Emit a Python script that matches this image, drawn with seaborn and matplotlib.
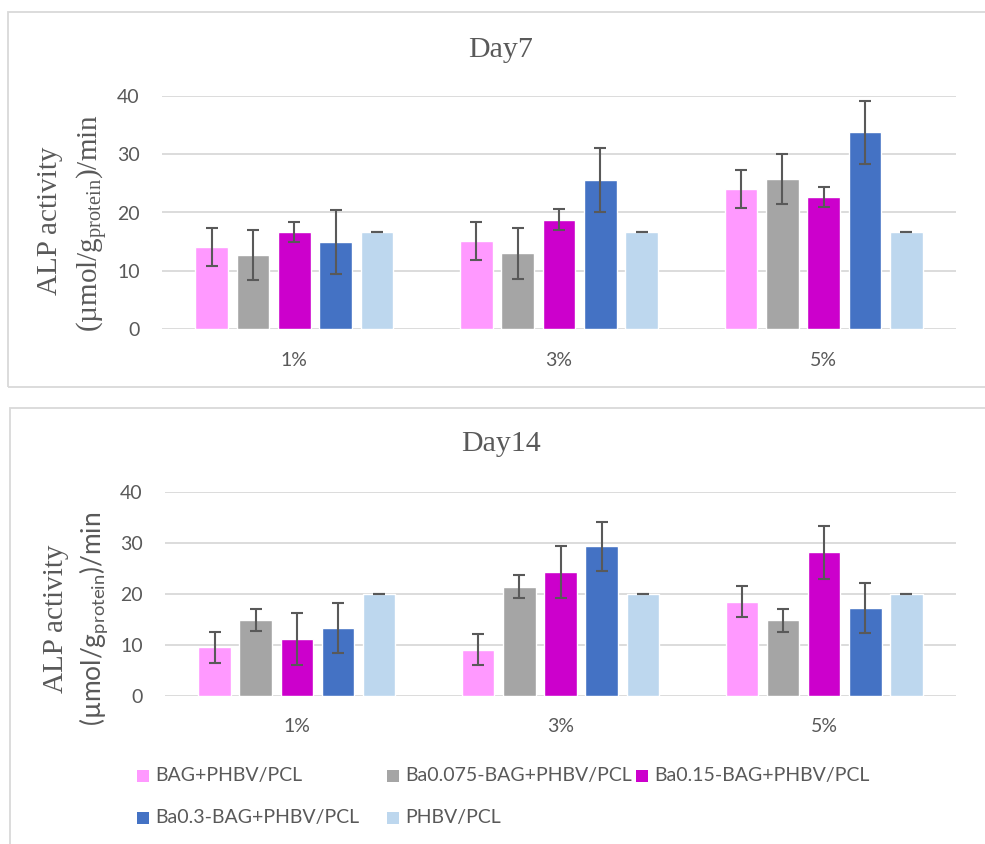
import numpy as np
import pandas as pd
import seaborn as sns
import matplotlib
matplotlib.use("Agg")
import matplotlib.pyplot as plt
from matplotlib.patches import Rectangle

# ---------------- data ----------------
categories = ["1%", "3%", "5%"]
series = ["BAG+PHBV/PCL", "Ba0.075-BAG+PHBV/PCL", "Ba0.15-BAG+PHBV/PCL",
          "Ba0.3-BAG+PHBV/PCL", "PHBV/PCL"]
colors = ["#FF99FF", "#A5A5A5", "#CC00CC", "#4472C4", "#BDD7EE"]

day7_bag = [14.1, 15.1, 24.0]
day7_ba0075 = [12.7, 13.0, 25.7]
day7_ba015 = [16.7, 18.8, 22.7]
day7_ba03 = [14.9, 25.6, 33.7]
day7_phbv = [16.7, 16.7, 16.7]
day7_err_bag = [3.2, 3.2, 3.2]
day7_err_ba0075 = [4.25, 4.35, 4.3]
day7_err_ba015 = [1.75, 1.75, 1.75]
day7_err_ba03 = [5.45, 5.45, 5.45]
day7_err_phbv = [0.0, 0.0, 0.0]

day14_bag = [9.5, 9.1, 18.5]
day14_ba0075 = [14.9, 21.4, 14.8]
day14_ba015 = [11.1, 24.2, 28.1]
day14_ba03 = [13.3, 29.3, 17.2]
day14_phbv = [20.0, 20.0, 20.0]
day14_err_bag = [3.05, 3.05, 3.05]
day14_err_ba0075 = [2.2, 2.2, 2.2]
day14_err_ba015 = [5.1, 5.1, 5.1]
day14_err_ba03 = [4.85, 4.85, 4.85]
day14_err_phbv = [0.0, 0.0, 0.0]

y_ticks = [0, 10, 20, 30, 40]


def make_df(vals, errs):
    rows = []
    for s, v, e in zip(series, vals, errs):
        for c, vv, ee in zip(categories, v, e):
            rows.append({"cat": c, "series": s, "value": vv, "err": ee})
    return pd.DataFrame(rows)


df7 = make_df([day7_bag, day7_ba0075, day7_ba015, day7_ba03, day7_phbv],
              [day7_err_bag, day7_err_ba0075, day7_err_ba015, day7_err_ba03, day7_err_phbv])
df14 = make_df([day14_bag, day14_ba0075, day14_ba015, day14_ba03, day14_phbv],
               [day14_err_bag, day14_err_ba0075, day14_err_ba015, day14_err_ba03, day14_err_phbv])

# ---------------- style ----------------
sns.set_theme(style="white")
plt.rcParams["font.family"] = ["Lato", "DejaVu Sans"]
plt.rcParams["mathtext.fontset"] = "custom"
plt.rcParams["mathtext.rm"] = "Liberation Serif"
plt.rcParams["mathtext.sf"] = "Lato"

TXT = "#595959"
GRID = "#D9D9D9"
W, H = 985, 844

fig = plt.figure(figsize=(W / 100, H / 100), dpi=100)


def fx(x):
    return x / W


def fy(y):
    return 1 - y / H


# panel borders
fig.patches.append(Rectangle((fx(7.5), fy(387)), fx(1000) - fx(7.5), fy(11.5) - fy(387),
                             transform=fig.transFigure, fill=False, ec=GRID, lw=1.3))
fig.patches.append(Rectangle((fx(9.5), fy(860)), fx(1000) - fx(9.5), fy(408) - fy(860),
                             transform=fig.transFigure, fill=False, ec=GRID, lw=1.3))


def draw(df, left, right, top, bottom):
    ax = fig.add_axes([fx(left), fy(bottom), fx(right) - fx(left), fy(top) - fy(bottom)])
    sns.barplot(data=df, x="cat", y="value", hue="series", order=categories,
                hue_order=series, palette=colors, width=0.78, gap=0.21,
                errorbar=None, legend=False, saturation=1, ax=ax, zorder=3)
    for cont, s in zip(ax.containers, series):
        sub = df[df["series"] == s].set_index("cat").loc[categories]
        xs = [p.get_x() + p.get_width() / 2 for p in cont.patches]
        hs = [p.get_height() for p in cont.patches]
        ax.errorbar(xs, hs, yerr=sub["err"].values, fmt="none", ecolor=TXT,
                    elinewidth=1.5, capsize=4.2, capthick=1.5, zorder=4)
    ax.set_ylim(0, 40)
    ax.set_xlim(-0.5, 2.5)
    ax.set_yticks(y_ticks)
    ax.yaxis.grid(True, color=GRID, lw=1.3, zorder=0)
    ax.set_axisbelow(True)
    for sp in ax.spines.values():
        sp.set_visible(False)
    ax.tick_params(axis="both", length=0, labelsize=14, labelcolor=TXT)
    ax.tick_params(axis="y", pad=16)
    ax.tick_params(axis="x", pad=16)
    ax.set_xlabel("")
    ax.set_ylabel("")
    return ax


ax1 = draw(df7, 162, 956, 95.7, 329.3)
ax2 = draw(df14, 165, 956, 491.7, 696)

# titles
fig.text(fx(501), fy(50), "Day7", family="Liberation Serif", fontsize=21.5,
         color=TXT, ha="center", va="center")
fig.text(fx(501), fy(444), "Day14", family="Liberation Serif", fontsize=21.5,
         color=TXT, ha="center", va="center")

# y labels
fig.text(fx(50), fy(221), "ALP activity", family="Liberation Serif", fontsize=21,
         color=TXT, rotation=90, ha="center", va="center")
fig.text(fx(92), fy(223), r"(µmol/g$_{\mathrm{protein}}$)/min", family="Liberation Serif",
         fontsize=21, color=TXT, rotation=90, ha="center", va="center")
fig.text(fx(56), fy(619), "ALP activity", family="Liberation Serif", fontsize=21,
         color=TXT, rotation=90, ha="center", va="center")
fig.text(fx(94), fy(619), r"(µmol/g$_{\mathsf{protein}}$)/min", family="Lato",
         fontsize=19, color=TXT, rotation=90, ha="center", va="center")

# legend
leg_pos = [(137, 776), (387, 776), (636, 776), (137, 818), (387, 818)]
for (x, y), s, c in zip(leg_pos, series, colors):
    fig.patches.append(Rectangle((fx(x), fy(y + 6)), fx(12), 12 / H,
                                 transform=fig.transFigure, fc=c, ec="none"))
    fig.text(fx(x + 18), fy(y), s, fontsize=14, color=TXT, ha="left", va="center")

fig.savefig("out.png", dpi=100)
